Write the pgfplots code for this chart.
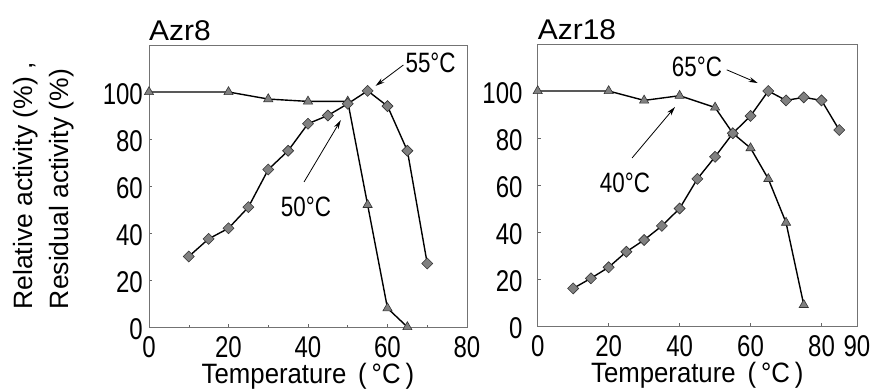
\documentclass[border=0pt]{standalone}
\usepackage{fontspec}
\setmainfont{Liberation Sans}
\newfontfamily\numfont{Liberation Sans}[FakeStretch=0.8]
\newfontfamily\labfont{Liberation Sans}[FakeStretch=0.92]
\newfontfamily\titfont{Liberation Sans}[FakeStretch=1.05]
\usepackage{pgfplots}
\pgfplotsset{compat=1.18}
\usetikzlibrary{arrows.meta}
\newcommand{\tickf}{\numfont\fontsize{30}{32}\selectfont}
\newcommand{\annf}{\numfont\fontsize{28}{30}\selectfont}
\newcommand{\labf}{\labfont\fontsize{28}{30}\selectfont}
\newcommand{\ylabf}{\fontsize{26.5}{30}\selectfont}
\newcommand{\titf}{\titfont\fontsize{28.5}{30}\selectfont}
\tikzset{ann/.style={-{Stealth[length=9pt,width=5pt]}, black, line width=0.8pt}}
\pgfplotsset{
 myax/.style={
  scale only axis, height=282pt, anchor=south west, clip=false,
  ymin=0, ymax=120, ytick={0,20,40,60,80,100},
  axis line style={black!55, line width=0.7pt},
  tick style={black!60, line width=0.5pt}, major tick length=3pt, minor tick length=2pt,
  tick align=inside, xtick pos=bottom, ytick pos=left,
  minor x tick num=1,
  /pgf/number format/assume math mode=true,
  tick label style={font=\tickf},
  xticklabel style={anchor=base, inner sep=0pt, yshift=-30pt},
  xlabel style={at={(rel axis cs:0.5,0)}, anchor=base, inner sep=0pt, yshift=-56pt, font=\labf},
  xlabel={Temperature \,(\hspace{5pt}°C\hspace{5pt})},
  every axis plot/.append style={black, line width=1.4pt},
 },
 tri/.style={mark=triangle*, mark size=5.3pt, mark options={fill=gray, draw=black!80, line width=0.6pt}},
 dia/.style={mark=square*, mark size=3.9pt, mark options={rotate=45, fill=gray, draw=black!80, line width=0.6pt}},
}
\begin{document}
\begin{tikzpicture}
% Left panel: Azr8
\begin{axis}[myax, at={(149pt,62pt)}, width=318pt,
  xmin=0, xmax=80, xtick={0,20,40,60,80},
  yticklabel style={anchor=east, inner sep=0pt, xshift=-6pt, yshift=-2pt}]
\addplot[tri] coordinates {(0,100)(20,100)(30,97)(40,96)(50,96)(55,52)(60,8)(65,0)};
\addplot[dia] coordinates {(10,30)(15,37.5)(20,42)(25,51)(30,67)(35,75)(40,86.5)(45,90)(50,95)(55,100.5)(60,94)(65,75)(70,27)};
\draw[ann] (axis cs:64,111.5) -- (axis cs:57,102.6);
\node[anchor=west, inner sep=0pt, font=\annf] at (axis cs:64.5,112.3) {55°C};
\draw[ann] (axis cs:39,61.7) -- (axis cs:48.25,88);
\node[inner sep=0pt, font=\annf] at (axis cs:39.5,51) {50°C};
\node[anchor=base west, inner sep=0pt, font=\titf, yshift=5pt] at (rel axis cs:0,1) {Azr8};
\end{axis}
% Right panel: Azr18
\begin{axis}[myax, at={(537.7pt,63pt)}, width=319.3pt,
  xmin=0, xmax=90, xtick={0,20,40,60,80,90},
  yticklabel style={anchor=east, inner sep=0pt, xshift=-15pt, yshift=-2pt}]
\addplot[tri] coordinates {(0,100)(20,100)(30,96)(40,98)(50,93)(55,82)(60,75.7)(65,62.6)(70,44)(75,9)};
\addplot[dia] coordinates {(10,16)(15,20.3)(20,25)(25,31.6)(30,36.6)(35,42.6)(40,50)(45,62.6)(50,72)(55,82)(60,89.4)(65,100)(70,96)(75,97.3)(80,96)(85,83.4)};
\draw[ann] (axis cs:53.3,109) -- (axis cs:62,103.4);
\node[inner sep=0pt, font=\annf] at (axis cs:44.9,110.2) {65°C};
\draw[ann] (axis cs:26.6,71.5) -- (axis cs:38.7,93.2);
\node[inner sep=0pt, font=\annf] at (axis cs:24.6,60.9) {40°C};
\node[anchor=base west, inner sep=0pt, font=\titf, yshift=5pt] at (rel axis cs:0,1) {Azr18};
\end{axis}
\node[rotate=90, anchor=base, inner sep=0pt, font=\ylabf] at (32pt,203pt) {Relative activity (\%) ,};
\node[rotate=90, anchor=base, inner sep=0pt, font=\ylabf] at (68pt,200pt) {Residual activity (\%)};
\pgfresetboundingbox
\useasboundingbox (0,0) rectangle (881pt,389pt);
\end{tikzpicture}
\end{document}
